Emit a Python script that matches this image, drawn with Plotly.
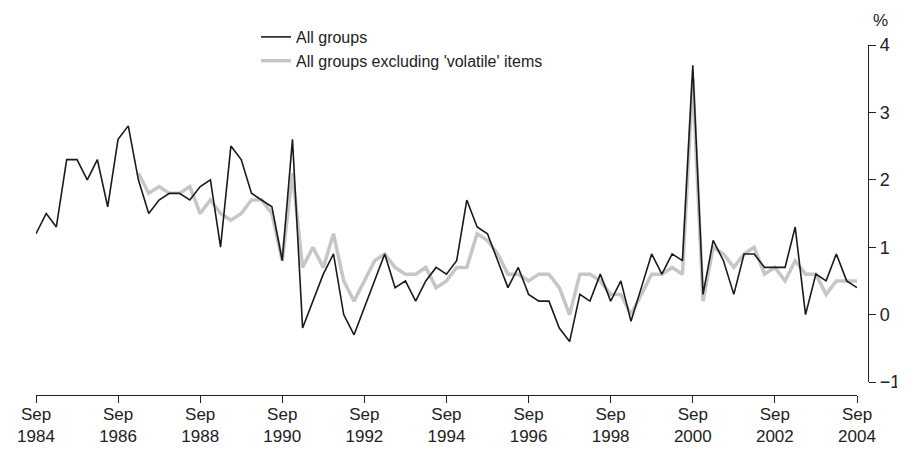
import pandas as pd
import plotly.graph_objects as go

dates = pd.date_range("1984-09-01", "2004-09-01", freq="3MS")

all_groups = [
    1.2, 1.5, 1.3, 2.3, 2.3, 2.0, 2.3, 1.6, 2.6, 2.8,
    2.0, 1.5, 1.7, 1.8, 1.8, 1.7, 1.9, 2.0, 1.0, 2.5,
    2.3, 1.8, 1.7, 1.6, 0.8, 2.6, -0.2, 0.2, 0.6, 0.9,
    0.0, -0.3, 0.1, 0.5, 0.9, 0.4, 0.5, 0.2, 0.5, 0.7,
    0.6, 0.8, 1.7, 1.3, 1.2, 0.8, 0.4, 0.7, 0.3, 0.2,
    0.2, -0.2, -0.4, 0.3, 0.2, 0.6, 0.2, 0.5, -0.1, 0.4,
    0.9, 0.6, 0.9, 0.8, 3.7, 0.3, 1.1, 0.8, 0.3, 0.9,
    0.9, 0.7, 0.7, 0.7, 1.3, 0.0, 0.6, 0.5, 0.9, 0.5, 0.4,
]

excl_volatile = [None] * 10 + [
    2.1, 1.8, 1.9, 1.8, 1.8, 1.9, 1.5, 1.7, 1.5, 1.4,
    1.5, 1.7, 1.7, 1.5, 0.8, 2.1, 0.7, 1.0, 0.7, 1.2,
    0.5, 0.2, 0.5, 0.8, 0.9, 0.7, 0.6, 0.6, 0.7, 0.4,
    0.5, 0.7, 0.7, 1.2, 1.1, 0.9, 0.6, 0.6, 0.5, 0.6,
    0.6, 0.4, 0.0, 0.6, 0.6, 0.5, 0.3, 0.3, 0.0, 0.3,
    0.6, 0.6, 0.7, 0.6, 3.5, 0.2, 1.0, 0.9, 0.7, 0.9,
    1.0, 0.6, 0.7, 0.5, 0.8, 0.6, 0.6, 0.3, 0.5, 0.5, 0.5,
]

tick_years = list(range(1984, 2005, 2))
tick_vals = [f"{y}-09-01" for y in tick_years]
tick_text = [f"Sep<br>{y}" for y in tick_years]
y_ticks = [-1, 0, 1, 2, 3, 4]

FONT = "Liberation Sans, Arial, sans-serif"

# figure pixels (page has an 8px body margin): paper left 28, right 860, top 5, bottom 387
W, H = 897, 442
L, R, T, B = 28, 860, 5, 387
PW, PH = R - L, B - T

fig = go.Figure()
fig.add_trace(go.Scatter(
    x=dates, y=excl_volatile, mode="lines",
    name="All groups excluding 'volatile' items",
    line=dict(color="#c6c6c6", width=3.5),
    legendrank=2,
))
fig.add_trace(go.Scatter(
    x=dates, y=all_groups, mode="lines",
    name="All groups",
    line=dict(color="#1a1a1a", width=1.6),
    legendrank=1,
))

fig.update_layout(
    width=W, height=H,
    margin=dict(l=L, r=W - R, t=T, b=H - B, autoexpand=False),
    paper_bgcolor="white", plot_bgcolor="white",
    font=dict(family=FONT, color="#222", size=17),
    showlegend=True,
    legend=dict(
        x=(248 - L) / PW, y=(B - 12) / PH, xanchor="left", yanchor="top",
        bgcolor="rgba(0,0,0,0)", font=dict(size=16, family=FONT),
        tracegroupgap=0, itemwidth=30,
    ),
    xaxis=dict(
        type="date",
        range=["1984-09-01", "2004-09-01"],
        domain=[0, 821 / PW],
        anchor="free", position=0, automargin=False,
        showgrid=False, zeroline=False,
        showline=True, linecolor="#222", linewidth=1.3,
        ticks="outside", ticklen=7, tickcolor="#222", tickwidth=1.3,
        tickmode="array", tickvals=tick_vals, ticktext=tick_text,
        tickfont=dict(size=17, family=FONT),
        ticklabelstandoff=-4,
    ),
    yaxis=dict(
        range=[-1, 4],
        domain=[13 / PH, (B - 37) / PH],
        side="right", anchor="free", position=1, automargin=False,
        showgrid=False, zeroline=False,
        showline=True, linecolor="#222", linewidth=1.3,
        ticks="outside", ticklen=7, tickcolor="#222", tickwidth=1.3,
        tickmode="array", tickvals=y_ticks,
        tickfont=dict(size=18, family=FONT),
    ),
    annotations=[dict(
        text="%", xref="paper", yref="paper", x=1.0 + 12 / PW, y=(B - 12) / PH,
        xanchor="center", yanchor="middle", showarrow=False,
        font=dict(size=17, family=FONT),
    )],
)

fig.write_html("out.html")
